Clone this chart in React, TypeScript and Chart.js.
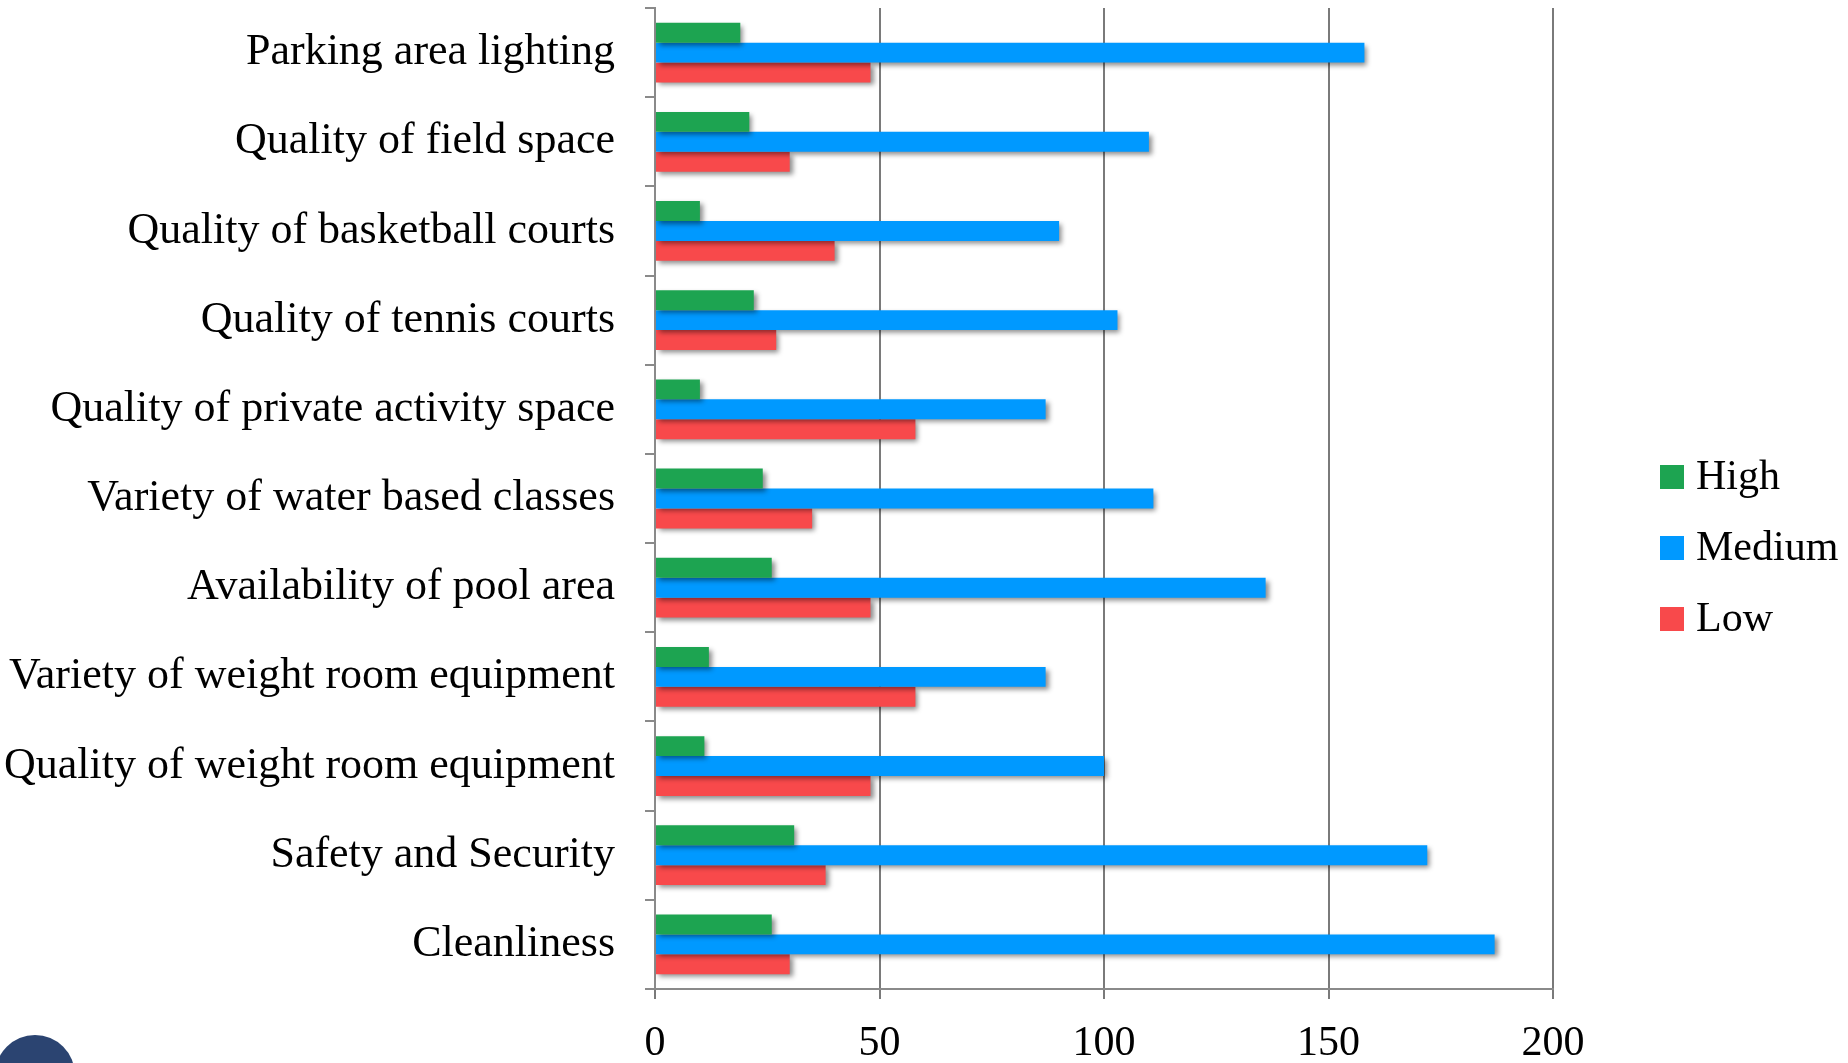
import React, { useEffect, useRef } from "react";
import { Chart, registerables } from "chart.js";

Chart.register(...registerables);

const categories = [
  "Parking area lighting",
  "Quality of field space",
  "Quality of basketball courts",
  "Quality of tennis courts",
  "Quality of private activity space",
  "Variety of water based classes",
  "Availability of pool area",
  "Variety of weight room equipment",
  "Quality of weight room equipment",
  "Safety and Security",
  "Cleanliness",
];

const seriesNames = ["High", "Medium", "Low"];
const highValues = [19, 21, 10, 22, 10, 24, 26, 12, 11, 31, 26];
const mediumValues = [158, 110, 90, 103, 87, 111, 136, 87, 100, 172, 187];
const lowValues = [48, 30, 40, 27, 58, 35, 48, 58, 48, 38, 30];
const seriesColors = ["#1DA451", "#0099FF", "#F8494B"];

const xMin = 0;
const xMax = 200;
const xStep = 50;

const FONT = "'Liberation Serif', 'Times New Roman', serif";

const shadowPlugin = {
  id: "barShadow",
  beforeDatasetsDraw(chart: any) {
    const ctx = chart.ctx;
    ctx.save();
    ctx.shadowColor = "rgba(0,0,0,0.45)";
    ctx.shadowBlur = 5;
    ctx.shadowOffsetX = 3;
    ctx.shadowOffsetY = 3;
  },
  afterDatasetsDraw(chart: any) {
    chart.ctx.restore();
  },
};

const sideLegendPlugin = {
  id: "sideLegend",
  afterDraw(chart: any, _args: any, opts: any) {
    const ctx = chart.ctx;
    ctx.save();
    const n = chart.data.datasets.length;
    chart.data.datasets.forEach((ds: any, i: number) => {
      const y = opts.centerY + (i - (n - 1) / 2) * opts.spacing;
      ctx.fillStyle = ds.backgroundColor;
      ctx.fillRect(opts.x, y - opts.box / 2, opts.box, opts.box);
      ctx.fillStyle = "#000";
      ctx.font = `${opts.fontSize}px ${FONT}`;
      ctx.textBaseline = "middle";
      ctx.textAlign = "left";
      ctx.fillText(ds.label, opts.x + opts.box + opts.gap, y + 1);
    });
    ctx.restore();
  },
};

export default function App() {
  const canvasRef = useRef<HTMLCanvasElement | null>(null);

  useEffect(() => {
    const canvas = canvasRef.current;
    if (!canvas) return;
    const values = [highValues, mediumValues, lowValues];
    const chart = new Chart(canvas, {
      type: "bar",
      data: {
        labels: categories,
        datasets: seriesNames.map((name, i) => ({
          label: name,
          data: values[i],
          backgroundColor: seriesColors[i],
          borderWidth: 0,
          categoryPercentage: 0.67,
          barPercentage: 1.0,
        })),
      },
      options: {
        indexAxis: "y",
        responsive: false,
        animation: false,
        devicePixelRatio: 1,
        layout: {
          padding: { top: 8, right: 295, left: 0, bottom: 0 },
        },
        plugins: {
          legend: { display: false },
          tooltip: { enabled: false },
          sideLegend: {
            x: 1660,
            centerY: 548,
            spacing: 71,
            box: 24,
            gap: 12,
            fontSize: 42,
          },
        } as any,
        scales: {
          x: {
            type: "linear",
            min: xMin,
            max: xMax,
            ticks: {
              stepSize: xStep,
              color: "#000",
              font: { family: FONT, size: 42 },
              padding: 20,
            },
            grid: {
              color: "#7a7a7a",
              lineWidth: 2,
              tickLength: 10,
              drawOnChartArea: true,
            },
            border: { color: "#8a8a8a", width: 2 },
            afterFit(scale: any) {
              scale.height = 74;
            },
          },
          y: {
            type: "category",
            ticks: {
              color: "#000",
              font: { family: FONT, size: 44 },
              padding: 30,
              autoSkip: false,
            },
            grid: {
              offset: true,
              drawOnChartArea: false,
              drawTicks: true,
              tickLength: 10,
              color: "#8a8a8a",
              lineWidth: 2,
            },
            border: { color: "#8a8a8a", width: 2 },
            afterFit(scale: any) {
              scale.width = 655;
              scale.paddingTop = 0;
              scale.paddingBottom = 0;
            },
          },
        },
      },
      plugins: [shadowPlugin, sideLegendPlugin],
    });
    return () => chart.destroy();
  }, []);

  return (
    <div
      style={{
        position: "absolute",
        left: 0,
        top: 0,
        width: 1848,
        height: 1063,
        overflow: "hidden",
        background: "#fff",
      }}
    >
      <canvas ref={canvasRef} width={1848} height={1063} />
      <div
        style={{
          position: "absolute",
          left: -5,
          top: 1035,
          width: 80,
          height: 80,
          borderRadius: "50%",
          background: "#2B4471",
        }}
      />
    </div>
  );
}
